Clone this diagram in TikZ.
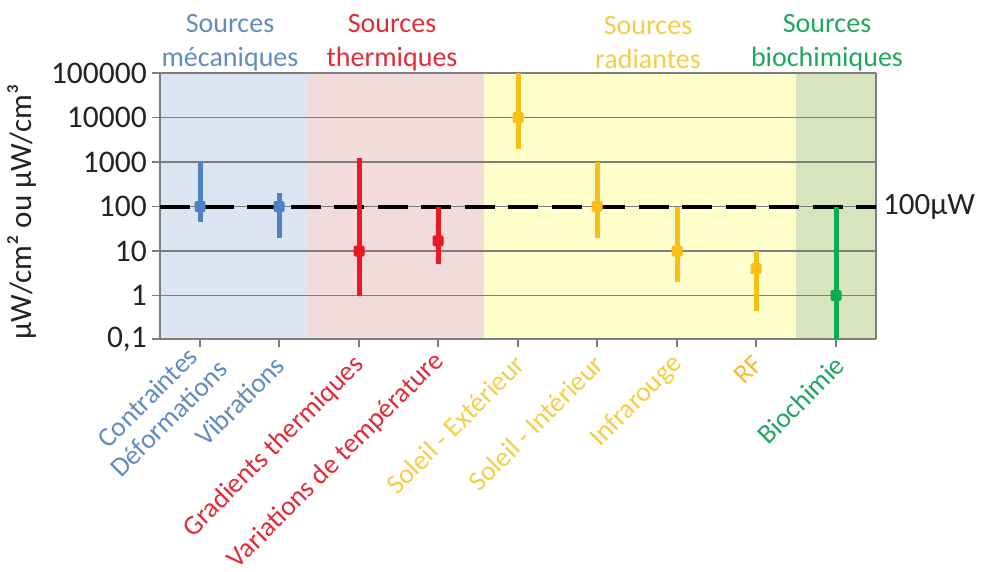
\documentclass[tikz,border=0pt]{standalone}
\usepackage{fontspec}
\setmainfont{Carlito}
\usetikzlibrary{positioning}

\definecolor{mecaBg}{RGB}{220,230,242}
\definecolor{thermBg}{RGB}{242,220,219}
\definecolor{radBg}{RGB}{255,255,204}
\definecolor{bioBg}{RGB}{215,228,189}
\definecolor{mecaCol}{RGB}{80,130,195}
\definecolor{thermCol}{RGB}{235,25,35}
\definecolor{radCol}{RGB}{250,190,20}
\definecolor{bioCol}{RGB}{15,170,80}
\definecolor{mecaTxt}{RGB}{98,140,192}
\definecolor{thermTxt}{RGB}{228,42,55}
\definecolor{radTxt}{RGB}{245,205,70}
\definecolor{rfTxt}{RGB}{250,185,55}
\definecolor{bioTxt}{RGB}{30,168,95}
\definecolor{gridCol}{RGB}{125,125,125}
\definecolor{txtCol}{RGB}{35,35,35}

% log scale: #1 = decade exponent, one decade = 44.5, 0.1 on the bottom line
\newcommand{\lv}[1]{340-44.5*(#1+1)}

\begin{document}
\begin{tikzpicture}[
        x=1pt, y=-1pt,
        every node/.style={inner sep=0pt, text=txtCol},
        hdr/.style={align=center, font=\fontsize{28}{34}\selectfont},
        ticklbl/.style={anchor=east, font=\fontsize{31.5}{36}\selectfont},
        catlbl/.style={anchor=east, rotate=45, font=\fontsize{27.5}{30}\selectfont},
        gridln/.style={draw=gridCol, line width=1.3pt},
        errbar/.style={line width=5pt},
        pt/.style={minimum size=11pt, rounded corners=2pt}
      ]
        \useasboundingbox (0,0) rectangle (988,571);

        % zones
        \fill[mecaBg] (160,73) rectangle (308,339);
        \fill[thermBg] (308,73) rectangle (484,339);
        \fill[radBg] (484,73) rectangle (796,339);
        \fill[bioBg] (796,73) rectangle (876,339);

        % grid
        \draw[gridln] (152,{\lv{5}}) -- (876,{\lv{5}});
        \draw[gridln] (152,{\lv{4}}) -- (876,{\lv{4}});
        \draw[gridln] (152,{\lv{3}}) -- (876,{\lv{3}});
        \draw[gridln] (152,{\lv{2}}) -- (876,{\lv{2}});
        \draw[gridln] (152,{\lv{1}}) -- (876,{\lv{1}});
        \draw[gridln] (152,{\lv{0}}) -- (876,{\lv{0}});
        \draw[gridln] (152,339) -- (876,339);
        \draw[gridln] (160,73) -- (160,339);
        \draw[gridln] (876,73) -- (876,339);
        \foreach \tx in {200,279,359,438,518,597,677,756,836}
          \draw[gridln] (\tx,339) -- (\tx,347);

        \node[ticklbl] (t-100000) at (147,{\lv{5}}) {100000};
        \node[ticklbl] (t-10000) at (147,{\lv{4}}) {10000};
        \node[ticklbl] (t-1000) at (147,{\lv{3}}) {1000};
        \node[ticklbl] (t-100) at (147,{\lv{2}}) {100};
        \node[ticklbl] (t-10) at (147,{\lv{1}}) {10};
        \node[ticklbl] (t-1) at (147,{\lv{0}}) {1};
        \node[ticklbl] (t-01) at (147,339) {0,1};
        \node[rotate=90, font=\fontsize{31}{36}\selectfont] (ytitle) at (22,212) {µW/cm² ou µW/cm³};

        % 100 µW line
        \coordinate (dash-start) at (160,{\lv{2}});
        \coordinate (dash-end) at (876,{\lv{2}});
        \draw[black, line width=4pt, dash pattern=on 30pt off 13.5pt] (dash-start) -- (dash-end);
        \node[right=7pt of dash-end, font=\fontsize{31}{36}\selectfont] (lbl-100uw) {100µW};

        % error bars + points
        \draw[errbar, mecaCol] (200,{\lv{log10(45)}}) -- (200,{\lv{3}});
        \node[pt, fill=mecaCol] (m-contr) at (200,{\lv{2}}) {};
        \draw[errbar, mecaCol] (279,{\lv{log10(20)}}) -- (279,{\lv{log10(200)}});
        \node[pt, fill=mecaCol] (m-vib) at (279,{\lv{2}}) {};
        \draw[errbar, thermCol] (359,{\lv{0}}) -- (359,{\lv{log10(1250)}});
        \node[pt, fill=thermCol] (m-grad) at (359,{\lv{1}}) {};
        \draw[errbar, thermCol] (438,{\lv{log10(5)}}) -- (438,{\lv{2}});
        \node[pt, fill=thermCol] (m-var) at (438,{\lv{log10(17)}}) {};
        \draw[errbar, radCol] (518,{\lv{log10(2000)}}) -- (518,73);
        \node[pt, fill=radCol] (m-solext) at (518,{\lv{4}}) {};
        \draw[errbar, radCol] (597,{\lv{log10(20)}}) -- (597,{\lv{3}});
        \node[pt, fill=radCol] (m-solint) at (597,{\lv{2}}) {};
        \draw[errbar, radCol] (677,{\lv{log10(2)}}) -- (677,{\lv{2}});
        \node[pt, fill=radCol] (m-ir) at (677,{\lv{1}}) {};
        \draw[errbar, radCol] (756,{\lv{log10(0.45)}}) -- (756,{\lv{1}});
        \node[pt, fill=radCol] (m-rf) at (756,{\lv{log10(4)}}) {};
        \draw[errbar, bioCol] (836,339) -- (836,{\lv{2}});
        \node[pt, fill=bioCol] (m-bio) at (836,{\lv{0}}) {};

        % headers
        \node[hdr, text=mecaTxt] (hd-meca) at (230,43) {Sources\\mécaniques};
        \node[hdr, text=thermTxt] (hd-therm) at (392,43) {Sources\\thermiques};
        \node[hdr, text=radTxt] (hd-rad) at (648,43) {Sources\\radiantes};
        \node[hdr, text=bioTxt] (hd-bio) at (827,43) {Sources\\biochimiques};

        % category labels
        \node[catlbl, align=center, text=mecaTxt] (c-contr) at (212,354) {Contraintes\\Déformations};
        \node[catlbl, text=mecaTxt] (c-vib) at (280,361) {Vibrations};
        \node[catlbl, text=thermTxt] (c-grad) at (360,361) {Gradients thermiques};
        \node[catlbl, text=thermTxt] (c-var) at (440,357) {Variations de température};
        \node[catlbl, text=radTxt] (c-solext) at (520,360) {Soleil - Extérieur};
        \node[catlbl, text=radTxt] (c-solint) at (599,360) {Soleil - Intérieur};
        \node[catlbl, text=radTxt] (c-ir) at (678,360) {Infrarouge};
        \node[catlbl, text=rfTxt] (c-rf) at (758,360) {RF};
        \node[catlbl, text=bioTxt] (c-bio) at (840,361) {Biochimie};
\end{tikzpicture}
\end{document}
